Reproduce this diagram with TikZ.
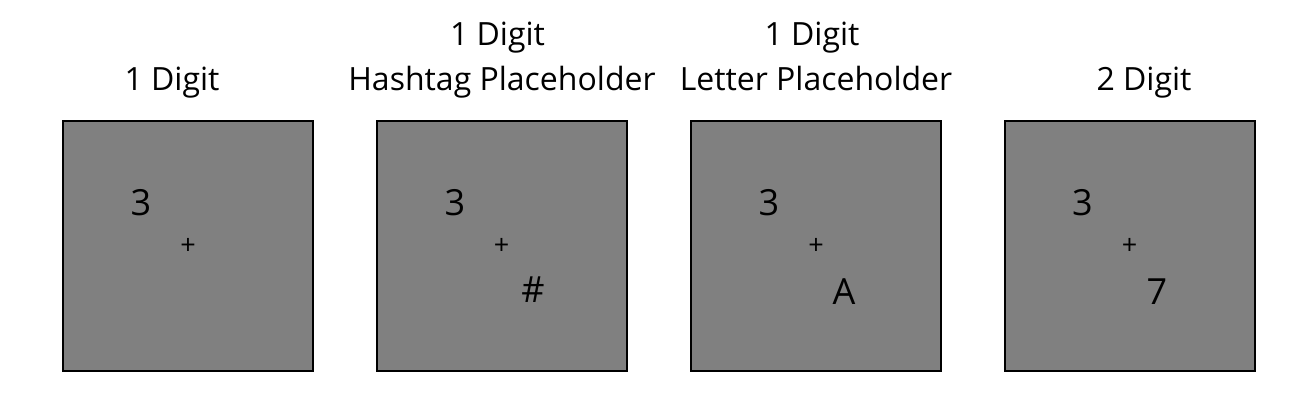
\documentclass[tikz,border=0pt]{standalone}
\usepackage{fontspec}
\setmainfont{Open Sans}
\begin{document}
\begin{tikzpicture}[x=1pt,y=-1pt,
  stim/.style={draw=black, fill=stimgray, line width=2pt, minimum width=250pt, minimum height=250pt, inner sep=0pt, outer sep=0pt},
  title/.style={anchor=base, inner sep=0pt, font=\fontsize{32}{40}\selectfont},
  glyph/.style={anchor=base, inner sep=0pt, font=\fontsize{36}{44}\selectfont},
  fix/.style={anchor=center, inner sep=0pt, font=\fontsize{27}{32}\selectfont}]
\definecolor{stimgray}{RGB}{128,128,128}
\useasboundingbox (0,0) rectangle (1309,410);
% boxes
\node[stim] (box1) at (188,245.5) {};
\node[stim] (box2) at (501.5,245.5) {};
\node[stim] (box3) at (816,245.5) {};
\node[stim] (box4) at (1129.5,245.5) {};
% titles
\node[title] (t1) at (172,90) {1 Digit};
\node[title] (t2a) at (497.5,45) {1 Digit};
\node[title] (t2b) at (502,90) {Hashtag Placeholder};
\node[title] (t3a) at (812,45) {1 Digit};
\node[title] (t3b) at (816,90) {Letter Placeholder};
\node[title] (t4) at (1144,90) {2 Digit};
% fixation crosses
\node[fix] (f1) at (188,246) {+};
\node[fix] (f2) at (501.5,246) {+};
\node[fix] (f3) at (816,246) {+};
\node[fix] (f4) at (1129.5,246) {+};
% digits
\node[glyph] (d1) at (141,215) {3};
\node[glyph] (d2) at (455,215) {3};
\node[glyph] (d3) at (769,215) {3};
\node[glyph] (d4) at (1082.5,215) {3};
\node[glyph] (h2) at (533,302) {\#};
\node[glyph] (l3) at (844,304) {A};
\node[glyph] (s4) at (1157,304) {7};
\end{tikzpicture}
\end{document}
